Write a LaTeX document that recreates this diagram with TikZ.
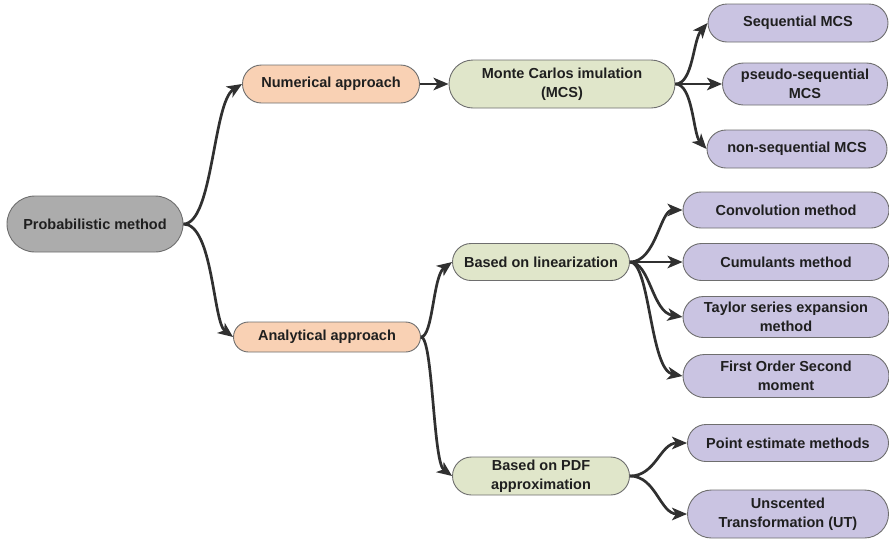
\documentclass[tikz,border=0pt]{standalone}
\usepackage{fontspec}
\setmainfont{Liberation Sans}
\usetikzlibrary{arrows.meta}
\usetikzlibrary{shapes.misc}

\definecolor{rootgray}{RGB}{172,172,172}
\definecolor{approachpeach}{RGB}{249,209,180}
\definecolor{methodgreen}{RGB}{224,230,202}
\definecolor{leafpurple}{RGB}{202,196,226}
\definecolor{edgegray}{RGB}{110,110,110}
\definecolor{linkgray}{RGB}{48,48,48}

\tikzset{
    box/.style={rounded rectangle, draw=edgegray, line width=0.9pt, inner sep=0pt,
        align=center, font=\fontsize{14.5}{18.5}\selectfont\bfseries, text=black!88},
    rootbox/.style={box, fill=rootgray},
    approachbox/.style={box, fill=approachpeach},
    methodbox/.style={box, fill=methodgreen},
    leafbox/.style={box, fill=leafpurple},
    link/.style={draw=linkgray, line width=2.7pt, -{Stealth[length=15pt,width=12.5pt,inset=4pt]}}
}

\begin{document}
\begin{tikzpicture}[x=1pt,y=-1pt]
    \useasboundingbox (0,0) rectangle (889,539);

    % Root
    \node[rootbox, minimum width=176, minimum height=56] (prob) at (95,224) {Probabilistic method};

    % Two approaches
    \node[approachbox, minimum width=177, minimum height=38] (num) at (331,84) {Numerical approach};
    \node[approachbox, minimum width=187, minimum height=30] (ana) at (327,337) {Analytical approach};

    % Method families
    \node[methodbox, minimum width=226, minimum height=48] (mcs) at (562,84) {Monte Carlos imulation\\(MCS)};
    \node[methodbox, minimum width=177, minimum height=37] (lin) at (541,262) {Based on linearization};
    \node[methodbox, minimum width=177, minimum height=38] (pdf) at (541,476) {Based on PDF\\approximation};

    % Monte Carlo variants
    \node[leafbox, minimum width=180, minimum height=38] (seq) at (798,23) {Sequential MCS};
    \node[leafbox, minimum width=165, minimum height=42] (pseudo) at (805,84) {pseudo-sequential\\MCS};
    \node[leafbox, minimum width=180, minimum height=38] (nonseq) at (797,149) {non-sequential MCS};

    % Linearization based
    \node[leafbox, minimum width=206, minimum height=36] (conv) at (786,210) {Convolution method};
    \node[leafbox, minimum width=206, minimum height=37] (cum) at (786,262) {Cumulants method};
    \node[leafbox, minimum width=206, minimum height=41] (taylor) at (786,317) {Taylor series expansion\\method};
    \node[leafbox, minimum width=206, minimum height=43] (fosm) at (786,376) {First Order Second\\moment};

    % PDF approximation based
    \node[leafbox, minimum width=201, minimum height=37] (point) at (788,443) {Point estimate methods};
    \node[leafbox, minimum width=201, minimum height=48] (ut) at (788,514) {Unscented\\Transformation (UT)};

    % Branches
    \draw[link] (prob.east) .. controls (213,224) and (213,102) .. (num.west);
    \draw[link] (prob.east) .. controls (213,224) and (213,322) .. (ana.west);
    \draw[link] (num.east) -- (mcs.west);

    \draw[link] (mcs.east) .. controls (693,84) and (693,40) .. (seq.west);
    \draw[link] (mcs.east) -- (pseudo.west);
    \draw[link] (mcs.east) .. controls (693,84) and (693,134) .. (nonseq.west);

    \draw[link] (ana.east) .. controls (433,337) and (433,276) .. (lin.west);
    \draw[link] (ana.east) .. controls (433,337) and (433,462) .. (pdf.west);

    \draw[link] (lin.east) .. controls (656,262) and (660,210) .. (conv.west);
    \draw[link] (lin.east) -- (cum.west);
    \draw[link] (lin.east) .. controls (650,262) and (652,312) .. (taylor.west);
    \draw[link] (lin.east) .. controls (650,262) and (650,370) .. (fosm.west);

    \draw[link] (pdf.east) .. controls (656,476) and (660,443) .. (point.west);
    \draw[link] (pdf.east) .. controls (656,476) and (660,514) .. (ut.west);
\end{tikzpicture}
\end{document}
